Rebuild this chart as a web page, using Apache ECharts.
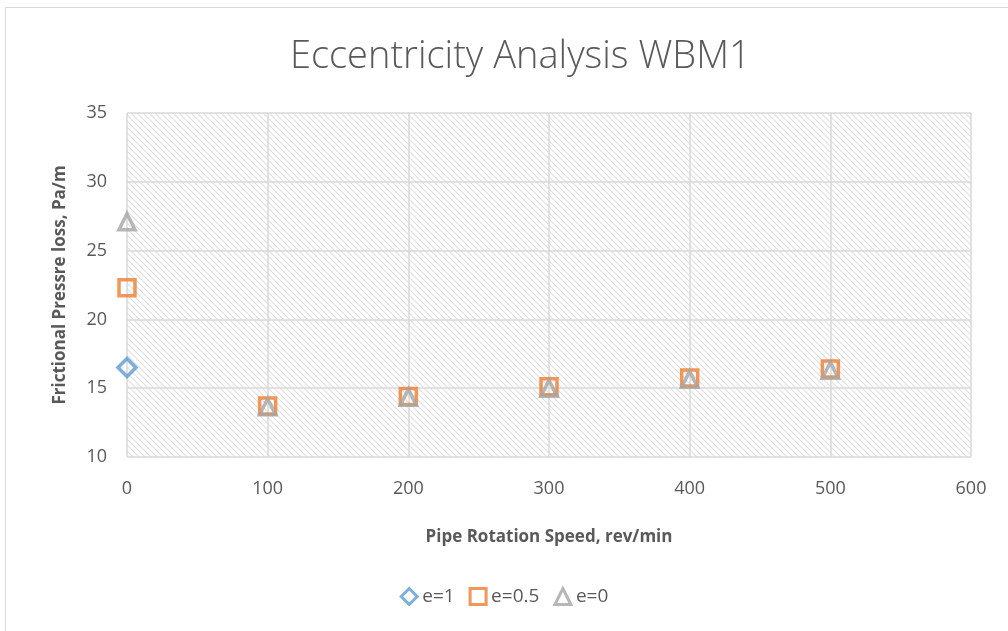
<!DOCTYPE html>
<html>
<head>
<meta charset="utf-8">
<script src="https://cdn.jsdelivr.net/npm/echarts@6/dist/echarts.min.js"></script>
<style>
html, body { margin: 0; padding: 0; background: #fff; }
#frame { position: absolute; left: 5px; top: 7px; width: 1010px; height: 630px; border: 1px solid #d9d9d9; box-sizing: border-box; }
#chart { position: absolute; left: 0; top: 0; width: 1008px; height: 631px; }
</style>
</head>
<body>
<div id="frame"></div>
<div id="chart"></div>
<script>
const speeds = [0, 100, 200, 300, 400, 500];
const e1 = [16.5];
const e05 = [22.3, 13.7, 14.4, 15.1, 15.75, 16.4];
const e0 = [27.1, 13.65, 14.35, 15.0, 15.65, 16.3];
const seriesNames = ['e=1', 'e=0.5', 'e=0'];

// diagonal hatch for the plot area
function hatch() {
    const c = document.createElement('canvas');
    c.width = 6; c.height = 6;
    const g = c.getContext('2d');
    g.strokeStyle = '#e0e0e0';
    g.lineWidth = 1.2;
    g.beginPath();
    g.moveTo(-1, -1); g.lineTo(7, 7);
    g.moveTo(-1, 5); g.lineTo(1, 7);
    g.moveTo(5, -1); g.lineTo(7, 1);
    g.stroke();
    return c;
}

function pairs(vals) {
    return vals.map((v, i) => [speeds[i], v]);
}

const chart = echarts.init(document.getElementById('chart'));
const font = "'Open Sans', 'Liberation Sans', sans-serif";

const option = {
    title: {
        text: 'Eccentricity Analysis WBM1',
        left: 285,
        top: 33,
        textStyle: { fontFamily: font, fontSize: 38, fontWeight: 300, color: '#595959' }
    },
    legend: {
        bottom: 20,
        left: 'center',
        itemWidth: 16,
        itemHeight: 16,
        itemGap: 14,
        textStyle: { fontFamily: font, fontSize: 19, color: '#595959' },
        data: seriesNames
    },
    grid: {
        left: 127,
        right: 37,
        top: 113,
        bottom: 174,
        show: true,
        borderWidth: 0,
        backgroundColor: { image: hatch(), repeat: 'repeat' }
    },
    xAxis: {
        type: 'value',
        min: 0,
        max: 600,
        interval: 100,
        name: 'Pipe Rotation Speed, rev/min',
        nameLocation: 'middle',
        nameGap: 72,
        nameTextStyle: { fontFamily: font, fontSize: 17, fontWeight: 'bold', color: '#595959' },
        axisLine: { show: false },
        axisTick: { show: false },
        axisLabel: { fontFamily: font, fontSize: 18, color: '#595959', margin: 23 },
        splitLine: { show: true, lineStyle: { color: '#d9d9d9', width: 1.5 } }
    },
    yAxis: {
        type: 'value',
        min: 10,
        max: 35,
        interval: 5,
        name: 'Frictional Pressre loss, Pa/m',
        nameLocation: 'middle',
        nameGap: 58,
        nameTextStyle: { fontFamily: font, fontSize: 17, fontWeight: 'bold', color: '#595959' },
        axisLine: { show: false },
        axisTick: { show: false },
        axisLabel: { fontFamily: font, fontSize: 18, color: '#595959', margin: 20 },
        splitLine: { show: true, lineStyle: { color: '#d9d9d9', width: 1.5 } }
    },
    series: [
        {
            name: seriesNames[0],
            type: 'scatter',
            symbol: 'diamond',
            symbolSize: 18,
            data: pairs(e1),
            itemStyle: { color: 'rgba(255,255,255,0)', borderColor: '#5b9bd5', borderWidth: 3.5 }
        },
        {
            name: seriesNames[1],
            type: 'scatter',
            symbol: 'rect',
            symbolSize: 16,
            data: pairs(e05),
            itemStyle: { color: 'rgba(255,255,255,0)', borderColor: '#ed7d31', borderWidth: 3.5 }
        },
        {
            name: seriesNames[2],
            type: 'scatter',
            symbol: 'triangle',
            symbolSize: 16,
            data: pairs(e0),
            itemStyle: { color: 'rgba(255,255,255,0)', borderColor: '#a5a5a5', borderWidth: 3.5 }
        }
    ]
};

chart.setOption(option);
// legend icons: thicker hollow outlines like the markers
chart.setOption({
    legend: {
        data: [
            { name: seriesNames[0], itemStyle: { color: '#fff', borderColor: '#5b9bd5', borderWidth: 3 } },
            { name: seriesNames[1], itemStyle: { color: '#fff', borderColor: '#ed7d31', borderWidth: 3 } },
            { name: seriesNames[2], itemStyle: { color: '#fff', borderColor: '#a5a5a5', borderWidth: 3 } }
        ]
    }
});
window.addEventListener('resize', () => chart.resize());
</script>
</body>
</html>
